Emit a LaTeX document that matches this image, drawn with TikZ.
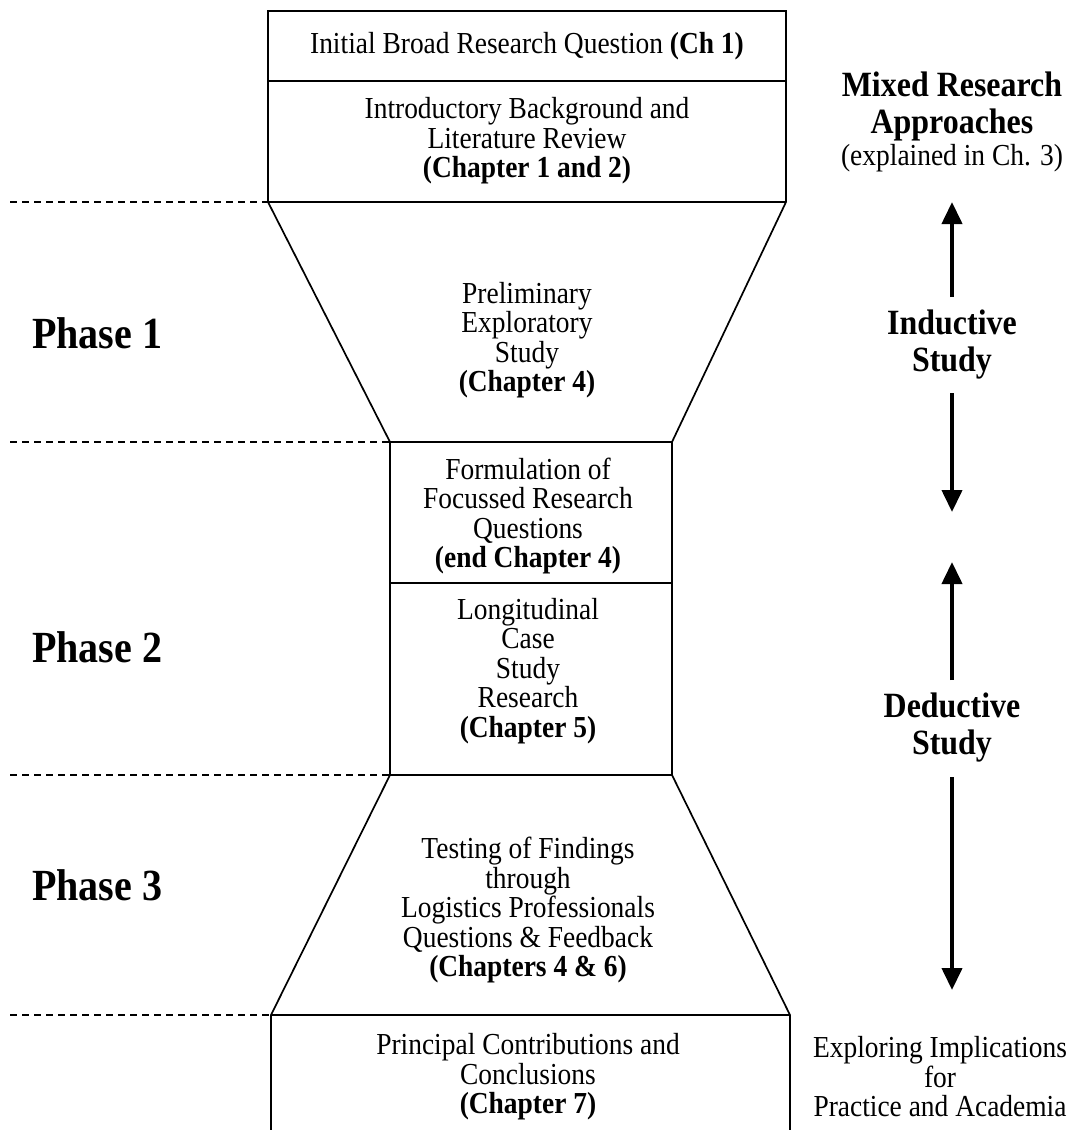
\documentclass[tikz,border=0pt]{standalone}
\usepackage{fontspec}
\setmainfont{Liberation Serif}[FakeStretch=0.9]
\usetikzlibrary{arrows.meta}
\begin{document}
\begin{tikzpicture}[x=1pt,y=-1pt,
  outline/.style={line width=1.7pt, line join=miter},
  guide/.style={line width=1.4pt, dash pattern=on 7pt off 5pt},
  txt/.style={align=center, inner sep=0pt, font=\fontsize{30.5}{29.5}\selectfont},
  side/.style={align=center, inner sep=0pt, font=\bfseries\fontsize{35.5}{37}\selectfont},
  phase/.style={anchor=west, inner sep=0pt, font=\bfseries\fontsize{44.5}{46}\selectfont},
  bigarrow/.style={line width=4pt, -{Triangle[width=20pt,length=22pt]}}]
\useasboundingbox (0,0) rectangle (1072,1130);
% corner coordinates
\coordinate (tl) at (268,11);   \coordinate (tr) at (786,11);
\coordinate (ml) at (268,81);   \coordinate (mr) at (786,81);
\coordinate (al) at (268,202);  \coordinate (ar) at (786,202);
\coordinate (bl) at (390,442);  \coordinate (br) at (672,442);
\coordinate (cl) at (390,583);  \coordinate (cr) at (672,583);
\coordinate (dl) at (390,775);  \coordinate (dr) at (672,775);
\coordinate (el) at (271,1015); \coordinate (er) at (790,1015);
\coordinate (fl) at (271,1130); \coordinate (fr) at (790,1130);
% outline of the hourglass
\draw[outline] (fl) -- (el) -- (dl) -- (bl) -- (al) -- (tl) -- (tr) -- (ar) -- (br) -- (dr) -- (er) -- (fr);
\draw[outline] (ml) -- (mr);
\draw[outline] (al) -- (ar);
\draw[outline] (bl) -- (br);
\draw[outline] (cl) -- (cr);
\draw[outline] (dl) -- (dr);
\draw[outline] (el) -- (er);
% dashed phase separators
\coordinate (g1) at (10,202);
\coordinate (g2) at (10,442);
\coordinate (g3) at (10,775);
\coordinate (g4) at (10,1015);
\draw[guide] (g1) -- (al);
\draw[guide] (g2) -- (bl);
\draw[guide] (g3) -- (dl);
\draw[guide] (g4) -- (el);
% texts in the hourglass
\node[txt] (q) at (527,46) {Initial Broad Research Question \textbf{(Ch 1)}};
\node[txt] (lit) at (527,141) {Introductory Background and\\Literature Review\\\textbf{(Chapter 1 and 2)}};
\node[txt] (pre) at (527,340) {Preliminary\\Exploratory\\Study\\\textbf{(Chapter 4)}};
\node[txt] (frq) at (528,516) {Formulation of\\Focussed Research\\Questions\\\textbf{(end Chapter 4)}};
\node[txt] (lcs) at (528,671) {Longitudinal\\Case\\Study\\Research\\\textbf{(Chapter 5)}};
\node[txt] (test) at (528,910) {Testing of Findings\\through\\Logistics Professionals\\Questions \& Feedback\\\textbf{(Chapters 4 \& 6)}};
\node[txt] (pcc) at (528,1077) {Principal Contributions and\\Conclusions\\\textbf{(Chapter 7)}};
% right column
\node[side] (mixed) at (952,106) {Mixed Research\\Approaches};
\node[txt] (expl) at (952,158) {(explained in Ch. 3)};
\node[side] (ind) at (952,345) {Inductive\\Study};
\node[side] (ded) at (952,728) {Deductive\\Study};
\node[txt] (exp) at (940,1077) {Exploring Implications\\for\\Practice and Academia};
% arrows
\coordinate (a1s) at (952,297); \coordinate (a1e) at (952,202);
\coordinate (a2s) at (952,393); \coordinate (a2e) at (952,512);
\coordinate (a3s) at (952,680); \coordinate (a3e) at (952,562);
\coordinate (a4s) at (952,777); \coordinate (a4e) at (952,990);
\draw[bigarrow] (a1s) -- (a1e);
\draw[bigarrow] (a2s) -- (a2e);
\draw[bigarrow] (a3s) -- (a3e);
\draw[bigarrow] (a4s) -- (a4e);
% phase labels
\node[phase] (p1) at (32,333) {Phase 1};
\node[phase] (p2) at (32,647) {Phase 2};
\node[phase] (p3) at (32,885) {Phase 3};
\end{tikzpicture}
\end{document}
